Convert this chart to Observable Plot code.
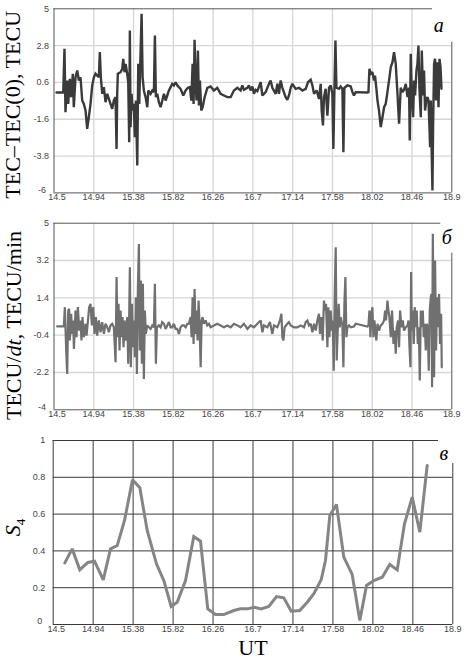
<!DOCTYPE html>
<html><head><meta charset="utf-8">
<script src="https://cdn.jsdelivr.net/npm/d3@7"></script>
<script src="https://cdn.jsdelivr.net/npm/@observablehq/plot@0.6"></script>
<style>
body{margin:0;background:#fff;}
#wrap{position:relative;width:473px;height:665px;overflow:hidden;}
#wrap svg{position:absolute;left:0;background:none;overflow:visible;}
</style></head><body><div id="wrap"></div>
<script>
// ---- tick labels ----
const xTicks = [14.5, 14.94, 15.38, 15.82, 16.26, 16.7, 17.14, 17.58, 18.02, 18.46, 18.9];
const tecTicks = [5, 2.8, 0.6, -1.6, -3.8, -6];
const rateTicks = [5, 3.2, 1.4, -0.4, -2.2, -4];
const s4Ticks = [0, 0.2, 0.4, 0.6, 0.8, 1];

// ---- panel а: TEC − TEC(0), TECU ----
const tecTime = [14.528,14.602,14.616,14.627,14.646,14.657,14.675,14.690,14.708,14.719,14.738,14.757,14.775,14.793,14.812,14.830,14.849,14.867,14.885,14.904,14.923,14.941,14.959,14.978,14.996,15.007,15.018,15.034,15.051,15.070,15.089,15.107,15.125,15.144,15.162,15.181,15.192,15.199,15.206,15.236,15.255,15.266,15.280,15.292,15.310,15.321,15.332,15.339,15.347,15.358,15.369,15.383,15.394,15.406,15.421,15.432,15.443,15.458,15.469,15.480,15.494,15.513,15.532,15.543,15.568,15.587,15.605,15.616,15.627,15.642,15.660,15.679,15.698,15.716,15.734,15.753,15.771,15.790,15.808,15.826,15.845,15.864,15.900,15.930,15.956,15.981,16.003,16.019,16.033,16.044,16.055,16.066,16.077,16.092,16.103,16.114,16.129,16.144,16.166,16.196,16.232,16.269,16.306,16.343,16.380,16.417,16.454,16.490,16.528,16.564,16.583,16.601,16.639,16.656,16.675,16.694,16.712,16.730,16.749,16.786,16.805,16.841,16.878,16.896,16.915,16.952,16.971,16.988,17.007,17.026,17.062,17.081,17.099,17.118,17.137,17.173,17.210,17.247,17.284,17.309,17.339,17.358,17.376,17.406,17.431,17.450,17.461,17.475,17.486,17.505,17.524,17.542,17.561,17.579,17.590,17.602,17.613,17.624,17.652,17.671,17.690,17.701,17.712,17.745,17.782,17.801,17.818,17.837,17.967,17.978,17.989,18.003,18.022,18.040,18.051,18.066,18.078,18.095,18.114,18.133,18.151,18.169,18.188,18.206,18.225,18.244,18.261,18.280,18.299,18.317,18.335,18.354,18.372,18.391,18.410,18.427,18.435,18.446,18.457,18.472,18.483,18.494,18.509,18.520,18.531,18.542,18.557,18.568,18.582,18.593,18.604,18.620,18.631,18.642,18.653,18.660,18.668,18.675,18.686,18.693,18.704,18.715,18.726,18.742,18.753,18.764,18.775,18.786];
const tecValue = [0.0,0.0,2.61,-1.18,0.72,-0.68,0.82,-0.28,1.12,-0.88,0.91,1.31,0.72,0.91,-0.48,-0.68,-1.08,-2.17,-1.48,-0.68,0.42,0.91,1.12,1.01,0.91,2.41,0.91,-0.08,0.32,-0.58,-0.08,-0.38,-0.68,-0.98,-0.48,-0.28,-3.37,-0.08,1.12,1.21,1.41,2.01,1.21,1.71,1.12,0.61,-2.97,3.70,-2.07,-0.08,-1.08,-0.68,-2.67,-0.48,-4.36,1.71,-0.68,2.51,4.70,0.91,0.12,-0.28,-0.88,0.12,-0.08,0.12,0.02,3.40,-0.28,-0.08,-0.58,-0.88,-0.48,-0.08,-0.48,-0.18,0.12,0.32,0.52,0.42,0.61,0.42,0.22,-0.18,0.12,0.28,0.32,-0.48,1.71,-0.68,3.15,0.52,-0.48,2.51,-0.78,0.72,-1.08,-0.88,-0.28,0.28,0.36,0.12,0.28,-0.08,-0.18,-0.28,-0.28,0.12,0.28,0.12,0.42,0.16,0.28,0.42,0.12,0.36,-0.08,0.16,0.08,0.61,-0.18,0.02,0.52,0.72,0.28,-0.08,0.52,-0.08,0.72,0.28,-0.28,-0.44,-0.18,0.28,0.52,0.22,0.28,0.12,0.22,0.61,0.76,0.42,-0.08,0.12,-0.38,0.52,-1.08,-1.97,-0.28,0.22,-1.38,0.28,0.42,-0.08,-3.37,0.28,3.11,0.28,0.22,0.36,0.22,-3.57,0.28,0.42,0.36,0.02,-0.18,0.02,0.0,0.02,1.41,1.12,1.21,0.72,1.01,0.22,-0.48,-1.08,-2.07,-1.48,-0.88,-0.68,0.02,0.72,1.51,1.81,2.41,1.71,-0.08,-1.87,0.28,0.02,0.16,0.52,-0.28,0.28,-2.87,2.31,-0.08,-1.48,0.72,-0.18,1.31,1.71,2.81,0.22,-1.48,2.51,-0.18,1.31,-1.08,-0.38,-0.28,-0.48,-2.07,-3.27,-0.48,-2.87,-5.86,-2.07,1.71,2.01,-0.48,1.81,-0.88,2.01,1.51,0.22];

// ---- panel б: dTEC/dt, TECU/min ----
const rateTime = [14.535,14.609,14.620,14.635,14.646,14.657,14.668,14.675,14.690,14.701,14.712,14.720,14.738,14.749,14.764,14.779,14.793,14.804,14.815,14.830,14.849,14.860,14.874,14.889,14.904,14.919,14.934,14.948,14.963,14.978,14.996,15.015,15.033,15.052,15.070,15.089,15.107,15.125,15.144,15.162,15.181,15.192,15.203,15.214,15.225,15.236,15.247,15.258,15.269,15.280,15.295,15.310,15.321,15.332,15.339,15.350,15.362,15.373,15.384,15.395,15.406,15.417,15.428,15.439,15.450,15.461,15.472,15.483,15.494,15.505,15.516,15.531,15.550,15.568,15.587,15.605,15.616,15.627,15.638,15.660,15.679,15.697,15.716,15.734,15.753,15.771,15.790,15.808,15.826,15.845,15.863,15.882,15.900,15.919,15.937,15.956,15.974,15.992,16.011,16.022,16.033,16.044,16.055,16.066,16.077,16.088,16.099,16.111,16.122,16.133,16.144,16.158,16.177,16.195,16.214,16.232,16.269,16.306,16.343,16.380,16.417,16.454,16.490,16.528,16.564,16.601,16.639,16.675,16.712,16.749,16.786,16.805,16.822,16.860,16.889,16.915,16.933,16.971,16.999,17.015,17.026,17.037,17.051,17.081,17.099,17.118,17.154,17.192,17.229,17.265,17.284,17.303,17.320,17.339,17.358,17.376,17.395,17.413,17.431,17.442,17.458,17.472,17.486,17.498,17.509,17.524,17.535,17.546,17.561,17.572,17.583,17.594,17.605,17.616,17.627,17.638,17.649,17.660,17.671,17.690,17.701,17.712,17.723,17.734,17.745,17.763,17.782,17.818,17.837,17.967,17.978,17.989,18.000,18.011,18.022,18.033,18.044,18.055,18.066,18.078,18.095,18.114,18.133,18.151,18.162,18.173,18.188,18.199,18.210,18.225,18.239,18.255,18.269,18.280,18.291,18.306,18.317,18.328,18.343,18.358,18.372,18.391,18.410,18.421,18.432,18.443,18.450,18.457,18.468,18.479,18.490,18.501,18.512,18.524,18.535,18.546,18.557,18.568,18.579,18.590,18.601,18.612,18.623,18.634,18.645,18.656,18.668,18.675,18.682,18.690,18.697,18.704,18.715,18.726,18.737,18.748,18.759,18.770,18.782,18.789];
const rateValue = [0.02,0.02,0.95,-1.14,-2.27,0.79,0.87,-0.66,0.63,-0.34,0.31,-1.06,0.79,-0.50,0.95,-0.18,0.31,-0.66,0.47,-0.50,0.15,-0.42,0.23,0.95,1.11,0.07,0.95,-0.34,0.47,-0.42,0.31,-0.26,0.23,-0.34,0.15,-0.02,-0.26,0.07,0.15,-0.02,-1.70,2.40,-0.50,1.11,-1.14,0.79,-0.50,0.47,-0.98,0.31,-0.66,0.47,-1.78,0.63,2.88,-1.95,1.11,-0.98,0.31,-1.46,1.43,-2.27,1.91,4.00,-1.14,2.24,-1.78,2.08,-2.51,0.79,-0.34,0.07,-0.02,-0.10,0.07,-0.02,2.08,-1.78,-0.02,0.07,-0.02,0.23,0.15,-0.10,0.07,0.23,-0.02,-0.02,0.15,-0.10,-0.10,-0.34,-0.02,0.07,0.07,-0.02,0.15,0.15,0.47,-0.50,1.43,-0.82,1.83,-0.34,0.79,-0.66,1.27,-0.02,-1.95,0.31,0.47,0.15,0.31,0.07,0.15,-0.02,0.07,0.15,0.07,-0.02,0.07,-0.02,0.15,0.07,-0.02,0.15,-0.10,0.07,-0.02,0.15,0.31,-0.26,0.07,-0.02,0.23,-0.34,0.07,-0.02,0.31,0.63,-0.50,-0.66,-0.02,0.15,0.23,0.07,-0.02,-0.02,0.07,-0.02,0.23,0.31,0.07,0.15,-0.26,0.15,-0.18,0.31,0.63,-0.34,0.47,-0.66,1.27,0.79,1.11,-0.98,0.95,-0.50,0.79,-0.18,0.31,-2.11,1.59,3.84,-1.62,-0.18,1.11,-0.02,0.47,0.07,-1.95,1.11,2.40,-0.50,-0.02,0.07,-0.02,0.02,0.15,0.02,0.07,0.79,-0.50,0.63,0.95,-0.50,0.31,-0.18,-0.66,0.15,-0.18,0.07,0.15,0.31,0.79,0.31,1.27,0.79,0.47,-0.50,0.79,-0.82,-0.18,-1.30,-0.02,0.31,-0.98,0.79,-0.02,0.31,-0.18,-0.02,0.07,0.31,-0.98,-1.95,2.64,-0.18,0.79,-0.82,0.95,-0.02,0.79,-0.82,-0.02,-2.59,0.79,-0.02,0.79,-0.50,0.15,-1.14,0.15,-0.02,-2.11,0.79,1.43,1.59,-2.91,4.49,0.79,-2.43,3.20,-1.14,1.43,-0.02,1.59,-0.82,0.63,-1.95];

// ---- panel в: S4 ----
const s4Time = [14.628,14.709,14.793,14.881,14.955,15.051,15.131,15.205,15.285,15.373,15.454,15.535,15.637,15.718,15.799,15.865,15.957,16.048,16.122,16.202,16.287,16.378,16.489,16.562,16.636,16.717,16.790,16.874,16.959,17.039,17.121,17.215,17.297,17.370,17.451,17.498,17.546,17.619,17.700,17.792,17.876,17.950,18.030,18.123,18.206,18.288,18.368,18.453,18.537,18.618];
const s4Value = [0.335,0.411,0.297,0.337,0.344,0.243,0.411,0.429,0.565,0.786,0.743,0.511,0.330,0.239,0.098,0.121,0.239,0.478,0.453,0.085,0.054,0.054,0.076,0.085,0.085,0.094,0.085,0.098,0.152,0.145,0.072,0.076,0.121,0.167,0.243,0.348,0.592,0.652,0.366,0.272,0.022,0.212,0.239,0.257,0.326,0.297,0.547,0.692,0.502,0.864];

const toRows = (t, v) => t.map((d, i) => ({t: d, v: v[i]}));

function panel(o) {
  const [y0, y1] = o.yDomain;
  const tickStyle = {tickSize: 0, fill: "#444", fontSize: 9, tickFormat: d => String(d), label: null};
  const plot = Plot.plot({
    width: 473, height: o.height,
    marginTop: o.mt, marginBottom: o.mb, marginLeft: o.ml, marginRight: o.mr,
    style: {fontFamily: "Liberation Sans", fontSize: "9px", background: "transparent", overflow: "visible"},
    x: {domain: [14.5, 18.9]},
    y: {domain: [y0, y1]},
    marks: [
      Plot.gridX(xTicks.slice(1, -1), {stroke: o.grid, strokeOpacity: 1, strokeWidth: o.gridW}),
      Plot.gridY(o.yTicks.filter(d => d !== y0 && d !== y1), {stroke: o.grid, strokeOpacity: 1, strokeWidth: o.gridW}),
      Plot.ruleX([14.5], {stroke: o.frame}),
      Plot.ruleY([y0], {stroke: o.frame}),
      Plot.ruleY([y1], {x1: 14.5, x2: o.topEnd, stroke: o.frame}),
      Plot.ruleX([18.9], {y1: y0, y2: o.rightTop, stroke: o.frame}),
      Plot.line(toRows(o.time, o.value), {x: "t", y: "v", stroke: o.stroke, strokeWidth: o.strokeWidth, strokeLinejoin: "miter", strokeMiterlimit: 2}),
      Plot.axisX(xTicks.slice(1), {...tickStyle, tickPadding: o.xPad}),
      Plot.axisX(xTicks.slice(0, 1), {...tickStyle, tickPadding: o.xPad, dx: 3}),
      Plot.axisY(o.yTicks.filter(d => d !== y0), {...tickStyle, tickPadding: o.yPad}),
      Plot.axisY([y0], {...tickStyle, tickPadding: o.yPad, dx: -3, dy: -3}),
      Plot.text([o.label], {frameAnchor: "left", textAnchor: "middle", lineAnchor: "middle", rotate: -90, dx: o.labDx, dy: o.labDy, fontSize: 22, fontFamily: "Liberation Serif", fill: "#000", className: "ylab"}),
      Plot.text([o.letter], {frameAnchor: "top-right", textAnchor: "middle", lineAnchor: "middle", dx: o.letDx, dy: o.letDy, fontSize: 20, fontStyle: "italic", fontFamily: "Liberation Serif", fill: "#000"}),
      ...(o.extra || [])
    ]
  });
  plot.style.top = o.top + "px";
  document.getElementById("wrap").appendChild(plot);
  return plot;
}

panel({
  top: 0, height: 215, mt: 8.3, mb: 22.6, ml: 53.5, mr: 21.7,
  yDomain: [-6, 5], yTicks: tecTicks, time: tecTime, value: tecValue,
  stroke: "#3a3a3a", strokeWidth: 2.4, grid: "#d6d6d6", gridW: 1.3, frame: "#555",
  topEnd: 18.686, rightTop: 3.0, xPad: 1, yPad: 5,
  label: "TEC\u2013TEC(0), TECU", labDx: -41, labDy: 4,
  letter: "\u0430", letDx: -13, letDy: 17
});

const p2 = panel({
  top: 215, height: 210, mt: 7.7, mb: 15.7, ml: 53.5, mr: 21.7,
  yDomain: [-4, 5], yTicks: rateTicks, time: rateTime, value: rateValue,
  stroke: "#707070", strokeWidth: 2.2, grid: "#d6d6d6", gridW: 1.3, frame: "#555",
  topEnd: 18.778, rightTop: 3.55, xPad: 1, yPad: 5,
  label: "TECU/dt, TECU/min", labDx: -40, labDy: 9,
  letter: "\u0431", letDx: -5, letDy: 14
});

const p3 = panel({
  top: 425, height: 240, mt: 15, mb: 41, ml: 52.7, mr: 20.7,
  yDomain: [0, 1], yTicks: s4Ticks, time: s4Time, value: s4Value,
  stroke: "#858585", strokeWidth: 3, grid: "#3a3a3a", gridW: 1, frame: "#3a3a3a",
  topEnd: 18.743, rightTop: 0.875, xPad: 1, yPad: 8,
  label: "S4", labDx: -40, labDy: -5,
  letter: "\u0432", letDx: -9, letDy: 13,
  extra: [Plot.text(["UT"], {frameAnchor: "bottom", dy: 30, fontSize: 22, fontFamily: "Liberation Serif", fill: "#000"})]
});

// rich text: italic "dt" and subscript "4"
{
  const t = d3.select(p2).select(".ylab text");
  t.text(null);
  t.append("tspan").text("TECU/");
  t.append("tspan").attr("font-style", "italic").text("dt");
  t.append("tspan").text(", TECU/min");
}
{
  const t = d3.select(p3).select(".ylab text");
  t.text(null);
  t.append("tspan").attr("font-style", "italic").text("S");
  t.append("tspan").attr("font-size", "13px").attr("dy", "0.35em").text("4");
}
</script></body></html>
